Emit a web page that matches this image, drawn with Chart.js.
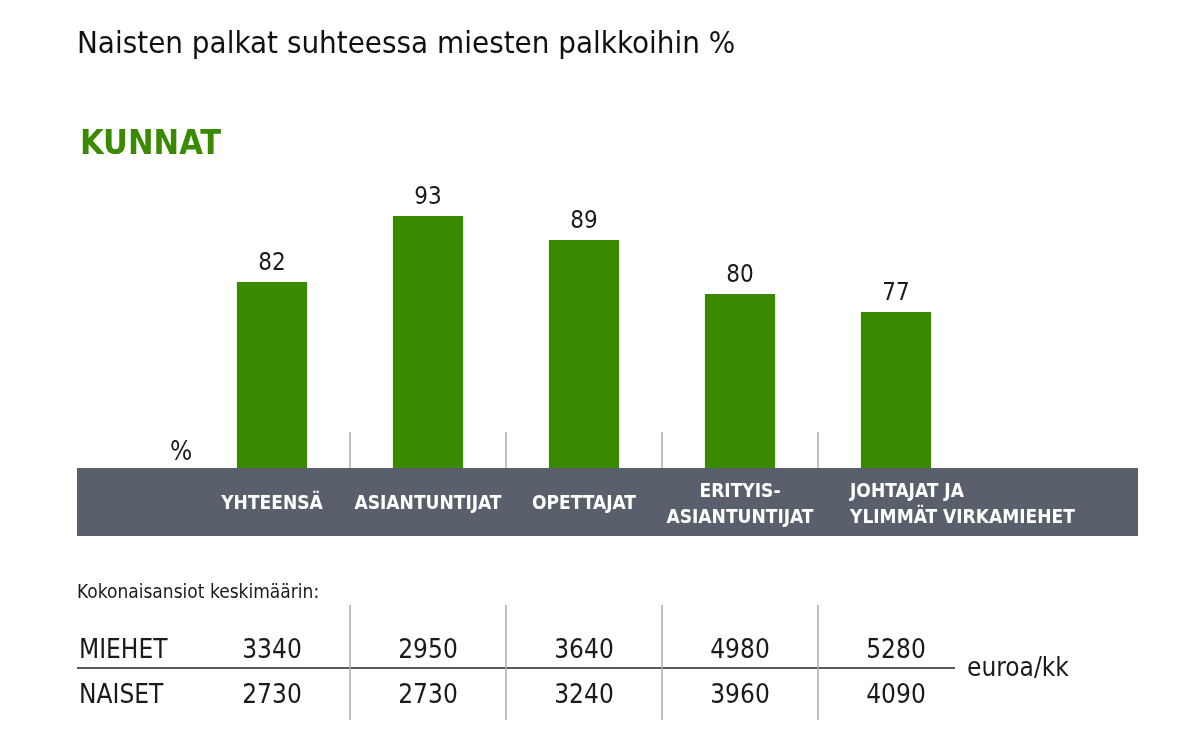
<!DOCTYPE html>
<html>
<head>
<meta charset="utf-8">
<script src="https://cdn.jsdelivr.net/npm/chart.js@4"></script>
<style>
  html, body { margin: 0; padding: 0; background: #fff; }
  #wrap { width: 1199px; height: 750px; position: relative; }
</style>
</head>
<body>
<div id="wrap"><canvas id="chart"></canvas></div>
<script>
const categories = [['YHTEENSÄ'], ['ASIANTUNTIJAT'], ['OPETTAJAT'], ['ERITYIS-', 'ASIANTUNTIJAT'], ['JOHTAJAT JA', 'YLIMMÄT VIRKAMIEHET']];
const ratios = [82, 93, 89, 80, 77];
const miehet = [3340, 2950, 3640, 4980, 5280];
const naiset = [2730, 2730, 3240, 3960, 4090];

const GREEN = '#3a8a00';
const BAND = '#5a606b';
const TEXT = '#1a1a1a';
const FONT = '"DejaVu Sans Condensed", "DejaVu Sans", sans-serif';

// Everything around the bars: band, separators, labels and the euro table
const decorations = {
    id: 'decorations',
    beforeDatasetsDraw(chart) {
        const ctx = chart.ctx;
        const x = chart.scales.x;
        const base = chart.chartArea.bottom;
        ctx.save();
        // grey band under the bars
        ctx.fillStyle = BAND;
        ctx.fillRect(77, base, 1138 - 77, 68);
        // short separators above the band
        ctx.strokeStyle = '#aaaaaa';
        ctx.lineWidth = 1.5;
        for (let i = 1; i < categories.length; i++) {
            const sx = (x.getPixelForValue(i - 1) + x.getPixelForValue(i)) / 2;
            ctx.beginPath(); ctx.moveTo(sx, base - 36); ctx.lineTo(sx, base); ctx.stroke();
        }
        ctx.restore();
    },
    afterDatasetsDraw(chart) {
        const ctx = chart.ctx;
        const x = chart.scales.x;
        const base = chart.chartArea.bottom;
        const meta = chart.getDatasetMeta(0);
        ctx.save();
        // titles
        ctx.textBaseline = 'alphabetic';
        ctx.textAlign = 'left';
        ctx.fillStyle = '#111';
        ctx.font = '31px ' + FONT;
        ctx.fillText('Naisten palkat suhteessa miesten palkkoihin %', 77, 53);
        ctx.fillStyle = GREEN;
        ctx.font = 'bold 34px ' + FONT;
        ctx.fillText('KUNNAT', 80, 154);
        ctx.fillStyle = TEXT;
        ctx.font = '26px ' + FONT;
        ctx.fillText('%', 170, 460);

        // value labels
        ctx.textAlign = 'center';
        ctx.font = '24px ' + FONT;
        meta.data.forEach((bar, i) => ctx.fillText(String(ratios[i]), bar.x, bar.y - 12));

        // category labels in the band
        ctx.fillStyle = '#ffffff';
        ctx.font = 'bold 19px ' + FONT;
        categories.forEach((lines, i) => {
            const cx = x.getPixelForValue(i);
            if (lines.length === 1) {
                ctx.textAlign = 'center';
                ctx.fillText(lines[0], cx, base + 41);
            } else {
                ctx.textAlign = i === 4 ? 'left' : 'center';
                const lx = i === 4 ? cx - 46 : cx;
                ctx.fillText(lines[0], lx, base + 29);
                ctx.fillText(lines[1], lx, base + 55);
            }
        });

        // table of average earnings
        ctx.fillStyle = TEXT;
        ctx.textAlign = 'left';
        ctx.font = '19px ' + FONT;
        ctx.fillText('Kokonaisansiot keskimäärin:', 77, 598);
        ctx.font = '26px ' + FONT;
        ctx.fillText('MIEHET', 79, 658);
        ctx.fillText('NAISET', 79, 703);
        ctx.fillText('euroa/kk', 967, 676);
        ctx.textAlign = 'center';
        categories.forEach((_, i) => {
            const cx = x.getPixelForValue(i);
            ctx.fillText(String(miehet[i]), cx, 658);
            ctx.fillText(String(naiset[i]), cx, 703);
        });
        ctx.strokeStyle = '#222';
        ctx.lineWidth = 1.5;
        ctx.beginPath(); ctx.moveTo(77, 668); ctx.lineTo(955, 668); ctx.stroke();
        ctx.strokeStyle = '#aaaaaa';
        for (let i = 1; i < categories.length; i++) {
            const sx = (x.getPixelForValue(i - 1) + x.getPixelForValue(i)) / 2;
            ctx.beginPath(); ctx.moveTo(sx, 605); ctx.lineTo(sx, 720); ctx.stroke();
        }
        ctx.restore();
    }
};

new Chart(document.getElementById('chart').getContext('2d'), {
    type: 'bar',
    data: {
        labels: categories.map(c => c.join(' ')),
        datasets: [{
            data: ratios,
            backgroundColor: GREEN,
            borderWidth: 0,
            barPercentage: 0.9,
            categoryPercentage: 0.5
        }]
    },
    options: {
        responsive: true,
        maintainAspectRatio: false,
        animation: false,
        layout: { padding: { left: 194, right: 225, top: 180, bottom: 282 } },
        scales: {
            x: { display: false },
            y: { display: false, min: 51, max: 99 }
        },
        plugins: {
            legend: { display: false },
            tooltip: { enabled: false }
        }
    },
    plugins: [decorations]
});
</script>
</body>
</html>
